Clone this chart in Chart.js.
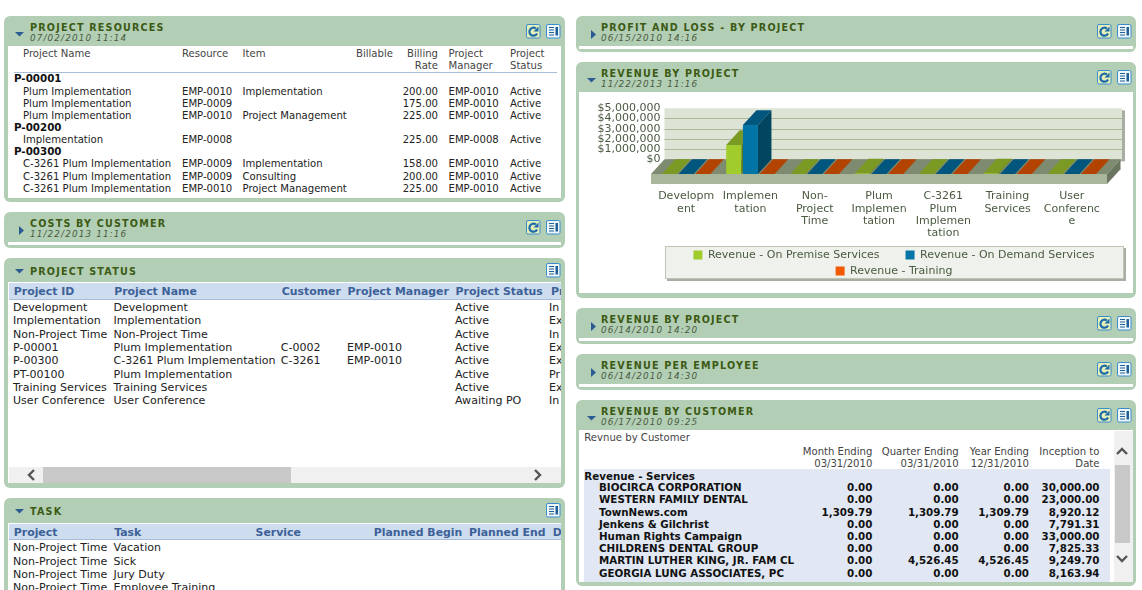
<!DOCTYPE html>
<html>
<head>
<meta charset="utf-8">
<title>Dashboard</title>
<script src="https://cdn.jsdelivr.net/npm/chart.js@4/dist/chart.umd.min.js"></script>
<style>
html, body { margin: 0; padding: 0; width: 1142px; height: 590px; overflow: hidden; background: #fff; }
body { position: relative; font-family: "DejaVu Sans", sans-serif; font-size: 10.1px; color: #222; }
.panel { position: absolute; background: #b2cfb5; border-radius: 6px; }
.body { position: absolute; background: #fff; overflow: hidden; }
.title { position: absolute; font-weight: bold; font-size: 9.6px; letter-spacing: 1.2px; color: #3d5a14; white-space: nowrap; transform: translateY(-50%); }
.date { position: absolute; font-style: italic; font-size: 8.8px; letter-spacing: 1.15px; color: #4a5a40; white-space: nowrap; transform: translateY(-50%); }
.cell { position: absolute; white-space: nowrap; transform: translateY(-50%); }
.right { transform: translate(-100%, -50%); }
.bold { font-weight: bold; font-size: 10.3px; color: #111; }
.big { font-size: 11.05px; color: #222; }
.head { font-size: 10.9px; font-weight: bold; color: #3c6198; }
.muted { color: #444; }
.band { position: absolute; background: #cddcee; border-bottom: 1px solid #a6bcd8; }
.fill { position: absolute; }
.icon { position: absolute; }
#chart { position: absolute; left: 579px; top: 92px; z-index: 2; }
</style>
</head>
<body>
<canvas id="chart" width="554" height="201"></canvas>
<script>
// Chart values
const categories = [
    ['Developm', 'ent'],
    ['Implemen', 'tation'],
    ['Non-', 'Project', 'Time'],
    ['Plum', 'Implemen', 'tation'],
    ['C-3261', 'Plum', 'Implemen', 'tation'],
    ['Training', 'Services'],
    ['User', 'Conferenc', 'e']
];
const onPremise = [0, 2840000, 0, 60000, 0, 60000, 0];
const onDemand = [0, 4800000, 0, 0, 0, 0, 0];
const training = [0, 0, 0, 0, 0, 0, 0];
const seriesNames = ['Revenue - On Premise Services', 'Revenue - On Demand Services', 'Revenue - Training'];

// Table contents
const resourceHead = [['Project Name', '', 'Resource', 'Item', 'Billable', 'Billing', 'Project', 'Project'], ['', '', '', '', '', 'Rate', 'Manager', 'Status']];
const resourceRows = [
    ['', 'P-00001'],
    ['Plum Implementation', '', 'EMP-0010', 'Implementation', '', '200.00', 'EMP-0010', 'Active'],
    ['Plum Implementation', '', 'EMP-0009', '', '', '175.00', 'EMP-0010', 'Active'],
    ['Plum Implementation', '', 'EMP-0010', 'Project Management', '', '225.00', 'EMP-0010', 'Active'],
    ['', 'P-00200'],
    ['Implementation', '', 'EMP-0008', '', '', '225.00', 'EMP-0008', 'Active'],
    ['', 'P-00300'],
    ['C-3261 Plum Implementation', '', 'EMP-0009', 'Implementation', '', '158.00', 'EMP-0010', 'Active'],
    ['C-3261 Plum Implementation', '', 'EMP-0009', 'Consulting', '', '200.00', 'EMP-0010', 'Active'],
    ['C-3261 Plum Implementation', '', 'EMP-0010', 'Project Management', '', '225.00', 'EMP-0010', 'Active']
];
const statusHead = ['Project ID', 'Project Name', 'Customer', 'Project Manager', 'Project Status', 'Pr'];
const statusRows = [
    ['Development', 'Development', '', '', 'Active', 'In'],
    ['Implementation', 'Implementation', '', '', 'Active', 'Ex'],
    ['Non-Project Time', 'Non-Project Time', '', '', 'Active', 'In'],
    ['P-00001', 'Plum Implementation', 'C-0002', 'EMP-0010', 'Active', 'Ex'],
    ['P-00300', 'C-3261 Plum Implementation', 'C-3261', 'EMP-0010', 'Active', 'Ex'],
    ['PT-00100', 'Plum Implementation', '', '', 'Active', 'Pr'],
    ['Training Services', 'Training Services', '', '', 'Active', 'Ex'],
    ['User Conference', 'User Conference', '', '', 'Awaiting PO', 'In']
];
const taskHead = ['Project', 'Task', 'Service', 'Planned Begin', 'Planned End', 'D'];
const taskRows = [
    ['Non-Project Time', 'Vacation'],
    ['Non-Project Time', 'Sick'],
    ['Non-Project Time', 'Jury Duty'],
    ['Non-Project Time', 'Employee Training']
];
const customerHead = [['Month Ending', 'Quarter Ending', 'Year Ending', 'Inception to'], ['03/31/2010', '03/31/2010', '12/31/2010', 'Date']];
const customerRows = [
    ['BIOCIRCA CORPORATION', '0.00', '0.00', '0.00', '30,000.00'],
    ['WESTERN FAMILY DENTAL', '0.00', '0.00', '0.00', '23,000.00'],
    ['TownNews.com', '1,309.79', '1,309.79', '1,309.79', '8,920.12'],
    ['Jenkens & Gilchrist', '0.00', '0.00', '0.00', '7,791.31'],
    ['Human Rights Campaign', '0.00', '0.00', '0.00', '33,000.00'],
    ['CHILDRENS DENTAL GROUP', '0.00', '0.00', '0.00', '7,825.33'],
    ['MARTIN LUTHER KING, JR. FAM CL', '0.00', '4,526.45', '4,526.45', '9,249.70'],
    ['GEORGIA LUNG ASSOCIATES, PC', '0.00', '0.00', '0.00', '8,163.94']
];

function el(cls, left, top, width, height, parent) {
    const d = document.createElement('div');
    d.className = cls;
    d.style.left = left + 'px';
    d.style.top = top + 'px';
    if (width != null) d.style.width = width + 'px';
    if (height != null) d.style.height = height + 'px';
    (parent || document.body).appendChild(d);
    return d;
}

function fill(color, left, top, width, height, parent) {
    el('fill', left, top, width, height, parent).style.background = color;
}

function text(parent, str, x, y, cls) {
    if (!str) return;
    const d = el('cell ' + (cls || ''), x, y, null, null, parent);
    d.textContent = str;
}

function svgIcon(x, y, inner, bg) {
    const d = el('icon', x, y, 15, 15);
    d.innerHTML = `<svg width="15" height="15"><rect x="0.5" y="0.5" width="13.5" height="13.5" rx="1.5" fill="${bg}" stroke="#3d8ccc"/>${inner}</svg>`;
}

function addIcons(right, top, refresh) {
    // list button
    svgIcon(right - 15, top, '<path d="M3 3.5h5M3 6h5M3 8.5h5M3 11h5" stroke="#1f5f98" stroke-width="1.2"/><rect x="9.5" y="3" width="2.5" height="8.5" fill="#1f5f98"/>', '#eef6f8');
    if (refresh) {
        svgIcon(right - 35, top, '<path d="M11 9.5a4 4 0 1 1-1.2-5" fill="none" stroke="#1f6aa8" stroke-width="2.2"/><path d="M12.5 2.5v5h-5z" fill="#1f6aa8"/>', '#e4f0b8');
    }
}

function addPanel(left, top, width, height, title, date, open, refresh) {
    el('panel', left, top, width, height);
    const titleX = left + (left === 4 ? 26 : 25);
    const t = el('title', titleX, date ? top + 11 : top + 12.5);
    t.textContent = title;
    if (date) {
        const dt = el('date', titleX, top + 21.5);
        dt.textContent = date;
    }
    const arrow = el('icon', left + (open ? 11 : 14), top + (date ? 14 : 9), 10, 10);
    arrow.innerHTML = open
        ? '<svg width="10" height="10"><path d="M0 2h9L4.5 6.5z" fill="#2c5a92"/></svg>'
        : '<svg width="10" height="10"><path d="M1 0v9l5-4.5z" fill="#2c5a92"/></svg>';
    addIcons(left + width - 4, date ? top + 8 : top + 4.5, refresh);
}

// Left column
addPanel(4, 16, 561, 186, 'PROJECT RESOURCES', '07/02/2010 11:14', true, true);
addPanel(4, 212, 561, 36, 'COSTS BY CUSTOMER', '11/22/2013 11:16', false, true);
el('body', 8, 242, 553, 3);
addPanel(4, 258, 561, 230, 'PROJECT STATUS', '', true, false);
addPanel(4, 498, 561, 100, 'TASK', '', true, false);

// Right column
addPanel(576, 16, 560, 36, 'PROFIT AND LOSS - BY PROJECT', '06/15/2010 14:16', false, true);
el('body', 579, 46, 554, 3);
addPanel(576, 62, 560, 236, 'REVENUE BY PROJECT', '11/22/2013 11:16', true, true);
el('body', 579, 92, 554, 201);
addPanel(576, 308, 560, 36, 'REVENUE BY PROJECT', '06/14/2010 14:20', false, true);
el('body', 579, 338, 554, 3);
addPanel(576, 354, 560, 36, 'REVENUE PER EMPLOYEE', '06/14/2010 14:30', false, true);
el('body', 579, 384, 554, 3);
addPanel(576, 400, 560, 186, 'REVENUE BY CUSTOMER', '06/17/2010 09:25', true, true);

// Project resources table
const resBody = el('body', 8, 46, 553, 152);
const resCols = [15, 6, 174, 234.5, 348, 430, 440.5, 502];
const resHeadY = [7.2, 19.2];
resourceHead.forEach((row, r) => {
    row.forEach((str, c) => text(resBody, str, resCols[c], resHeadY[r], 'muted' + (c === 5 ? ' right' : '')));
});
el('band', 6, 25.5, 543, 0, resBody);
const resRowY = [32.2, 45, 57, 69, 81.2, 93, 105.2, 117, 130, 142];
resourceRows.forEach((row, r) => {
    row.forEach((str, c) => {
        const cls = c === 1 ? 'bold' : (c === 5 ? 'right' : '');
        text(resBody, str, resCols[c], resRowY[r], cls);
    });
});

// Project status table
const statusBody = el('body', 8, 282, 553, 201);
el('band', 1, 1, 552, 16, statusBody);
const statusHeadCols = [5.8, 106.2, 273.8, 339.6, 447.6, 543];
const statusCols = [5, 105.5, 272.7, 339, 447, 541];
statusHead.forEach((str, c) => text(statusBody, str, statusHeadCols[c], 9, 'head'));
const statusRowY = [25, 38, 52, 65, 78, 92, 105, 118];
statusRows.forEach((row, r) => {
    row.forEach((str, c) => text(statusBody, str, statusCols[c], statusRowY[r], 'big'));
});
// horizontal scrollbar
fill('#f0f0f0', 1, 185, 552, 16, statusBody);
fill('#c8c8c8', 35, 185, 248, 16, statusBody);
const leftArrow = el('icon', 18, 187, 12, 12, statusBody);
leftArrow.innerHTML = '<svg width="12" height="12"><path d="M8 1L3 6l5 5" fill="none" stroke="#555" stroke-width="2.4"/></svg>';
const rightArrow = el('icon', 524, 187, 12, 12, statusBody);
rightArrow.innerHTML = '<svg width="12" height="12"><path d="M3 1l5 5-5 5" fill="none" stroke="#555" stroke-width="2.4"/></svg>';

// Task table
const taskBody = el('body', 8, 523, 553, 67);
el('band', 1, 1, 552, 15, taskBody);
const taskHeadCols = [5.8, 106.2, 247.6, 365.8, 461, 544.7];
taskHead.forEach((str, c) => text(taskBody, str, taskHeadCols[c], 9, 'head'));
const taskCols = [5, 105.5];
const taskRowY = [24, 38, 51, 64];
taskRows.forEach((row, r) => {
    row.forEach((str, c) => text(taskBody, str, taskCols[c], taskRowY[r], 'big'));
});

// Revenue by customer table
const custBody = el('body', 579, 430, 554, 152);
text(custBody, 'Revnue by Customer', 5.3, 7.2, 'muted');
const custCols = [293.4, 379.7, 450, 520.5];
const custHeadY = [20.7, 32.7];
customerHead.forEach((row, r) => {
    row.forEach((str, c) => text(custBody, str, custCols[c], custHeadY[r], 'muted right'));
});
fill('#e1e8f3', 5, 39, 525.6, 113, custBody);
text(custBody, 'Revenue - Services', 5.3, 45.7, 'bold');
const custRowY = [57.3, 69.3, 81.7, 93.7, 106.3, 118.3, 130.3, 142.7];
customerRows.forEach((row, r) => {
    text(custBody, row[0], 20, custRowY[r], 'bold');
    custCols.forEach((x, c) => text(custBody, row[c + 1], x, custRowY[r], 'bold right'));
});
// vertical scrollbar
fill('#f0f0f0', 535, 1, 19, 151, custBody);
fill('#c8c8c8', 536, 35, 15, 78, custBody);
const upArrow = el('icon', 537, 16, 12, 12, custBody);
upArrow.innerHTML = '<svg width="12" height="12"><path d="M1 8l5-5 5 5" fill="none" stroke="#555" stroke-width="2.4"/></svg>';
const downArrow = el('icon', 537, 123, 12, 12, custBody);
downArrow.innerHTML = '<svg width="12" height="12"><path d="M1 3l5 5 5-5" fill="none" stroke="#555" stroke-width="2.4"/></svg>';
document.body.appendChild(document.getElementById('chart'));

// 3D look: depth of the chart box
const depthX = 13.5;
const depthY = 14.7;
const faceColors = [
    { top: '#7a9a24', side: '#5f7a1c' },
    { top: '#00567c', side: '#014560' },
    { top: '#b24300', side: '#8c3500' }
];
const legendBox = { left: 86, top: 154, width: 458, height: 32 };

function poly(ctx, color, pts) {
    ctx.fillStyle = color;
    ctx.beginPath();
    pts.forEach((p, i) => (i ? ctx.lineTo(p[0], p[1]) : ctx.moveTo(p[0], p[1])));
    ctx.closePath();
    ctx.fill();
}

const box3d = {
    id: 'box3d',
    afterLayout(chart) {
        // tick labels lie over the wall, so widen the axis box to the right
        chart.scales.y.left = 10;
        chart.scales.y.right = 81.6;
        // legend sits in its own box, off to the right of the axis column
        const l = chart.legend;
        l.left = legendBox.left;
        l.right = legendBox.left + legendBox.width;
        l.width = legendBox.width;
        l.top = legendBox.top - 1.5;
        l.bottom = legendBox.top + legendBox.height;
    },
    beforeDraw(chart) {
        const { ctx, chartArea: a, scales: { y } } = chart;
        const floorL = a.left - 3;
        const floorR = a.right + 3;
        const wallL = floorL + depthX;
        const wallR = floorR + depthX + 1.5;
        const zero = y.getPixelForValue(0);
        const top = y.getPixelForValue(5000000) - depthY;
        // wall
        ctx.fillStyle = '#a9ada3';
        ctx.fillRect(wallL + 3, top + 2, wallR - wallL, zero - depthY - top);
        ctx.fillStyle = '#dde3d5';
        ctx.fillRect(wallL, top, wallR - wallL, zero - depthY - top);
        ctx.strokeStyle = '#a9b998';
        ctx.lineWidth = 1;
        y.ticks.forEach(t => {
            const py = Math.round(y.getPixelForValue(t.value) - depthY) + 0.5;
            if (t.value === 0 || t.value === 5000000) return;
            ctx.beginPath();
            ctx.moveTo(wallL, py);
            ctx.lineTo(wallR, py);
            ctx.stroke();
        });
        // floor
        poly(ctx, '#7f8b70', [[floorL, zero], [floorR, zero], [floorR + depthX, zero - depthY], [floorL + depthX, zero - depthY]]);
        ctx.fillStyle = '#aab69b';
        ctx.fillRect(floorL, zero, floorR - floorL, 10);
        poly(ctx, '#6b7560', [[floorR, zero], [floorR + depthX, zero - depthY], [floorR + depthX, zero - depthY + 10], [floorR, zero + 10]]);
        // legend box
        const b = legendBox;
        ctx.fillStyle = '#a9ada3';
        ctx.fillRect(b.left + 2, b.top + 2, b.width + 1, b.height + 1);
        ctx.fillStyle = '#eff2ec';
        ctx.strokeStyle = '#bcc6b2';
        ctx.fillRect(b.left, b.top, b.width, b.height);
        ctx.strokeRect(b.left + 0.5, b.top + 0.5, b.width, b.height);
    },
    beforeDatasetsDraw(chart) {
        const { ctx } = chart;
        chart.data.datasets.forEach((ds, i) => {
            chart.getDatasetMeta(i).data.forEach(bar => {
                const half = bar.width / 2;
                const l = bar.x - half;
                const r = bar.x + half;
                poly(ctx, faceColors[i].top, [[l, bar.y], [r, bar.y], [r + depthX, bar.y - depthY], [l + depthX, bar.y - depthY]]);
                poly(ctx, faceColors[i].side, [[r, bar.y], [r + depthX, bar.y - depthY], [r + depthX, bar.base - depthY], [r, bar.base]]);
            });
        });
    }
};

Chart.defaults.font.family = '"DejaVu Sans", sans-serif';
Chart.defaults.font.size = 11;
Chart.defaults.color = '#4a5a40';

new Chart(document.getElementById('chart'), {
    type: 'bar',
    data: {
        labels: categories,
        datasets: [
            { label: seriesNames[0], data: onPremise, backgroundColor: '#a0cc2c' },
            { label: seriesNames[1], data: onDemand, backgroundColor: '#0274a6' },
            { label: seriesNames[2], data: training, backgroundColor: '#f15a00' }
        ]
    },
    options: {
        responsive: false,
        animation: false,
        categoryPercentage: 0.78,
        barPercentage: 0.9,
        layout: { padding: { left: 30, right: 29, top: 31, bottom: 1 } },
        plugins: {
            tooltip: { enabled: false },
            legend: {
                position: 'bottom',
                labels: {
                    boxWidth: 9,
                    boxHeight: 9,
                    padding: 5,
                    font: { size: 11 },
                    color: '#4a5a40',
                    // row padding also sets line height, so the gap in the first row comes from spaces
                    generateLabels(chart) {
                        const items = Chart.defaults.plugins.legend.labels.generateLabels(chart);
                        items[0].text += '      ';
                        return items;
                    }
                }
            }
        },
        scales: {
            x: {
                afterFit(scale) { scale.height = 76; },
                grid: { display: false, drawTicks: false },
                border: { display: false },
                ticks: { autoSkip: false, maxRotation: 0, minRotation: 0, padding: 16.5, font: { size: 11, lineHeight: 1.1 } }
            },
            y: {
                min: 0,
                max: 5000000,
                afterFit(scale) { scale.width = 45; },
                grid: { display: false, drawTicks: false },
                border: { display: false },
                ticks: {
                    autoSkip: false,
                    stepSize: 1000000,
                    padding: 0,
                    labelOffset: -14.7,
                    callback: v => '$' + v.toLocaleString('en-US')
                }
            }
        }
    },
    plugins: [box3d]
});
</script>
</body>
</html>
